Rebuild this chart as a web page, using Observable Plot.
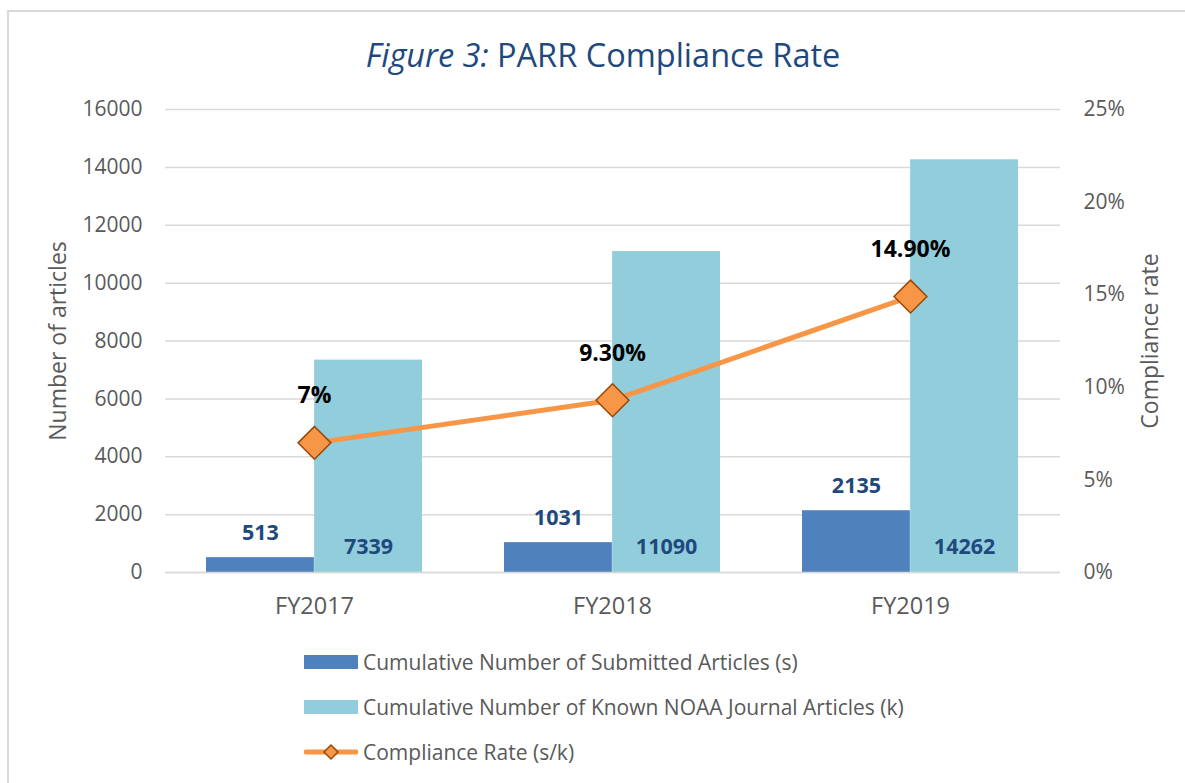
<!DOCTYPE html>
<html>
<head>
<meta charset="utf-8">
<script src="https://cdn.jsdelivr.net/npm/d3@7"></script>
<script src="https://cdn.jsdelivr.net/npm/@observablehq/plot@0.6"></script>
<style>
  html, body { margin: 0; padding: 0; background: #fff; }
  body { width: 1185px; height: 783px; overflow: hidden; position: relative; font-family: "Open Sans", sans-serif; }
  #frame { position: absolute; left: 7px; top: 10px; width: 1200px; height: 800px; border-left: 2px solid #d9d9d9; border-top: 2px solid #d9d9d9; box-sizing: border-box; }
  #title { position: absolute; top: 32px; left: 0; width: 1206px; text-align: center; font-size: 32.5px; color: #1f497d; white-space: nowrap; }
  #chart { position: absolute; left: 0; top: 80px; }
  #legend { position: absolute; left: 304px; top: 639px; font-size: 21px; color: #595959; }
  .row { height: 45px; display: flex; align-items: center; white-space: nowrap; }
  .sw { width: 54px; height: 14px; margin-right: 5px; flex: none; }
</style>
</head>
<body>
<div id="frame"></div>
<div id="title"><i>Figure 3:</i> PARR Compliance Rate</div>
<div id="chart"></div>
<div id="legend"></div>
<script>
const years = ["FY2017", "FY2018", "FY2019"];
const submitted = [513, 1031, 2135];
const known = [7339, 11090, 14262];
const rate = [7, 9.3, 14.9];
const rateLabels = ["7%", "9.30%", "14.90%"];
const leftTicks = [0, 2000, 4000, 6000, 8000, 10000, 12000, 14000, 16000];
const rightTicks = [0, 5, 10, 15, 20, 25];
const seriesNames = [
  "Cumulative Number of Submitted Articles (s)",
  "Cumulative Number of Known NOAA Journal Articles (k)",
  "Compliance Rate (s/k)"
];
const colS = "#4f81bd", colK = "#92cddc", colR = "#f79646", colRStroke = "#984807";

const W = 1185, H = 560, mL = 165, mR = 125, mT = 29, mB = 68;
const padInner = 0.275;
const bw = (W - mL - mR) / 3 * (1 - padInner);
const scaleR = 16000 / 25; // right axis percent -> left axis units

const rows = years.map((y, i) => ({year: y, s: submitted[i], k: known[i], r: rate[i] * scaleR, rl: rateLabels[i]}));

const font = "Open Sans, sans-serif";
const plot = Plot.plot({
  width: W, height: H,
  marginLeft: mL, marginRight: mR, marginTop: mT, marginBottom: mB,
  style: {fontFamily: font, background: "transparent"},
  x: {domain: years, paddingInner: padInner, paddingOuter: padInner / 2},
  y: {domain: [0, 16000]},
  marks: [
    Plot.ruleY(leftTicks, {stroke: "#d9d9d9", strokeWidth: 1.5}),
    Plot.barY(rows, {x: "year", y: "s", fill: colS, insetRight: bw / 2}),
    Plot.barY(rows, {x: "year", y: "k", fill: colK, insetLeft: bw / 2}),
    Plot.ruleY([0], {stroke: "#d9d9d9", strokeWidth: 1.5}),
    Plot.text(rows, {x: "year", y: "s", text: d => String(d.s), dx: -bw / 4, dy: -25, fill: "#1f497d", fontWeight: "bold", fontSize: 21.5}),
    Plot.text(rows, {x: "year", y: 0, text: d => String(d.k), dx: bw / 4, dy: -25, fill: "#1f497d", fontWeight: "bold", fontSize: 21.5}),
    Plot.line(rows, {x: "year", y: "r", stroke: colR, strokeWidth: 5}),
    Plot.dot(rows, {x: "year", y: "r", symbol: "diamond2", r: 14.8, fill: colR, stroke: colRStroke, strokeWidth: 1.5, fillOpacity: 1}),
    Plot.text(rows, {x: "year", y: "r", text: "rl", dy: -47, fill: "#000", fontWeight: "bold", fontSize: 23}),
    Plot.axisY(leftTicks, {anchor: "left", tickSize: 0, tickPadding: 23, fontSize: 21, color: "#595959", tickFormat: d => String(d), label: null}),
    Plot.axisY(rightTicks.map(t => t * scaleR), {anchor: "right", tickSize: 0, tickPadding: 23, fontSize: 21, color: "#595959", tickFormat: d => (d / scaleR) + "%", label: null}),
    Plot.axisX({tickSize: 0, tickPadding: 25, fontSize: 23.5, color: "#595959", label: null}),
    Plot.text(["Number of articles"], {frameAnchor: "left", textAnchor: "middle", dx: -107, rotate: -90, fontSize: 23, fill: "#595959"}),
    Plot.text(["Compliance rate"], {frameAnchor: "right", textAnchor: "middle", dx: 90, rotate: -90, fontSize: 23, fill: "#595959"})
  ]
});
document.getElementById("chart").appendChild(plot);

// legend
const leg = document.getElementById("legend");
seriesNames.forEach((name, i) => {
  const row = document.createElement("div");
  row.className = "row";
  if (i < 2) {
    const sw = document.createElement("div");
    sw.className = "sw";
    sw.style.background = i === 0 ? colS : colK;
    row.appendChild(sw);
  } else {
    const svg = d3.create("svg").attr("width", 54).attr("height", 20).style("margin-right", "5px").style("flex", "none");
    svg.append("line").attr("x1", 2).attr("x2", 52).attr("y1", 10).attr("y2", 10).attr("stroke", colR).attr("stroke-width", 5).attr("stroke-linecap", "round");
    svg.append("path").attr("d", "M27,3L34,10L27,17L20,10Z").attr("fill", colR).attr("stroke", colRStroke).attr("stroke-width", 1.5);
    row.appendChild(svg.node());
  }
  const t = document.createElement("span");
  t.textContent = name;
  row.appendChild(t);
  leg.appendChild(row);
});
</script>
</body>
</html>
